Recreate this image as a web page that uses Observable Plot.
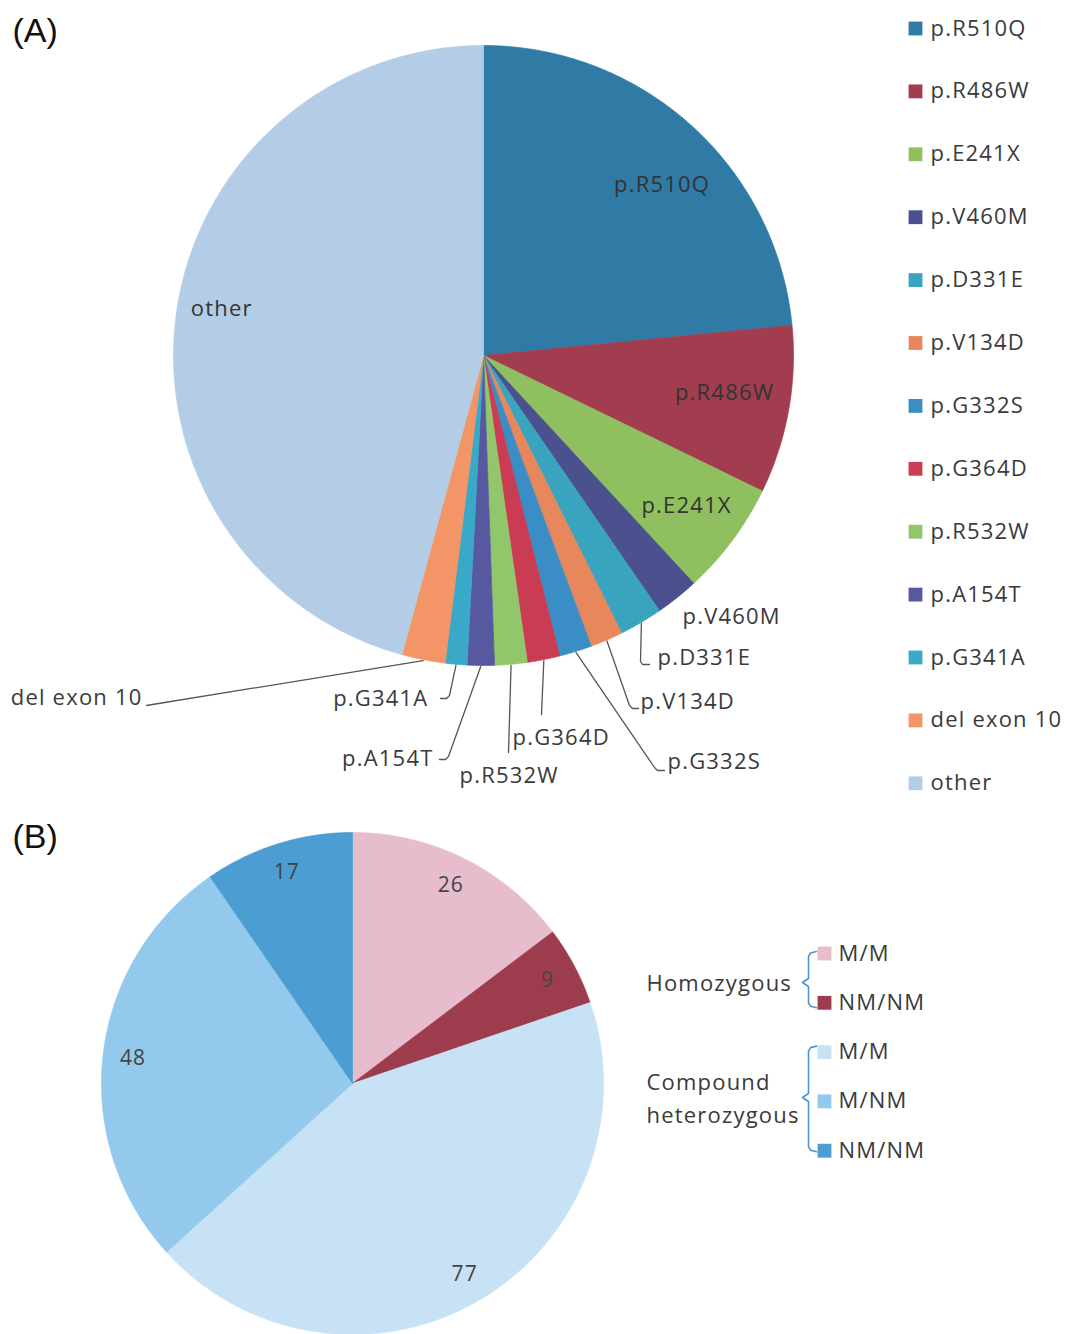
<!DOCTYPE html>
<html>
<head>
<meta charset="utf-8">
<script src="https://cdn.jsdelivr.net/npm/d3@7"></script>
<script src="https://cdn.jsdelivr.net/npm/@observablehq/plot@0.6"></script>
<style>
html, body { margin: 0; padding: 0; background: #ffffff; }
#chart svg { display: block; }
#chart svg .lbl text { letter-spacing: 1.2px; }
</style>
</head>
<body>
<div id="chart"></div>
<script>
// ---------- Panel A: mutation allele counts (clockwise from 12 o'clock) ----------
const mutations = ["p.R510Q", "p.R486W", "p.E241X", "p.V460M", "p.D331E", "p.V134D",
  "p.G332S", "p.G364D", "p.R532W", "p.A154T", "p.G341A", "del exon 10", "other"];
const alleleCounts = [83, 31, 21, 8, 8, 6, 6, 6, 6, 5, 4, 8, 162];
const mutationColors = ["#2f7ba6", "#a23d50", "#8fbf5f", "#4b508f", "#3aa4bf", "#e8875b",
  "#3b8ec5", "#c93c53", "#91c66b", "#5759a0", "#3aa9c7", "#f39566", "#b4cde6"];
const insideLabelsA = ["p.R510Q", "p.R486W", "p.E241X", "other"];

// ---------- Panel B: genotype counts (clockwise from 12 o'clock) ----------
const genotypeGroups = ["Homozygous", "Homozygous", "Compound heterozygous", "Compound heterozygous", "Compound heterozygous"];
const genotypeKinds = ["M/M", "NM/NM", "M/M", "M/NM", "NM/NM"];
const genotypeCounts = [26, 9, 77, 48, 17];
const genotypeColors = ["#e7bccd", "#9d3c4c", "#c8e2f5", "#92c9ec", "#4b9dd2"];

// ---------- layout ----------
const W = 1071, H = 1334;
const pieA = {cx: 483, cy: 355, r: 310};
const pieB = {cx: 352, cy: 1083, r: 251};
const textColor = "#3a3a3a";
const font = "'Open Sans', 'Noto Sans', sans-serif";

function polar(p, angle, radius) {
  return {x: p.cx + radius * Math.sin(angle), y: p.cy - radius * Math.cos(angle)};
}

function buildSlices(values, keys, colors, p) {
  const arcs = d3.pie().sort(null).value(d => d)(values);
  return arcs.map((a, i) => {
    const n = Math.max(2, Math.ceil((a.endAngle - a.startAngle) / (Math.PI / 360)));
    const pts = [{x: p.cx, y: p.cy}];
    for (let k = 0; k <= n; k++) {
      pts.push(polar(p, a.startAngle + (a.endAngle - a.startAngle) * k / n, p.r));
    }
    pts.push({x: p.cx, y: p.cy});
    return {key: keys[i], color: colors[i], value: values[i], pts, mid: (a.startAngle + a.endAngle) / 2};
  });
}

const slicesA = buildSlices(alleleCounts, mutations, mutationColors, pieA);
const slicesB = buildSlices(genotypeCounts, genotypeKinds, genotypeColors, pieB);

// inside label nudges (pixels) for panel A
const insideNudge = {"p.R510Q": [12, 13], "p.R486W": [-3, -6], "p.E241X": [4, 3], "other": [-16, -14]};

// outside labels of panel A (leader line bends after the rim point)
const outerLabelsA = [
  {key: "p.V460M", tx: 682, ty: 616, anchor: "start", bend: []},
  {key: "p.D331E", tx: 657, ty: 657, anchor: "start", bend: [[640, 661], [642, 664], [649, 664]]},
  {key: "p.V134D", tx: 640, ty: 701, anchor: "start", bend: [[629, 705], [632, 708], [638, 708]]},
  {key: "p.G332S", tx: 667, ty: 761, anchor: "start", bend: [[654, 767], [657, 770], [664, 770]]},
  {key: "p.G364D", tx: 512, ty: 737, anchor: "start", bend: [[541, 714]]},
  {key: "p.R532W", tx: 459, ty: 775, anchor: "start", bend: [[508, 752]]},
  {key: "p.A154T", tx: 433, ty: 758, anchor: "end", bend: [[448, 756], [445, 759], [439, 759]]},
  {key: "p.G341A", tx: 428, ty: 698, anchor: "end", bend: [[449, 695], [446, 698], [440, 698]]},
  {key: "del exon 10", tx: 142, ty: 697, anchor: "end", bend: [[152, 704], [146, 705]]}
];

const marks = [];

// slices
for (const s of [...slicesA, ...slicesB]) {
  marks.push(Plot.line(s.pts, {x: "x", y: "y", fill: s.color, stroke: s.color, strokeWidth: 0.7, curve: "linear"}));
}

// inside labels panel A
const inA = slicesA.filter(s => insideLabelsA.includes(s.key)).map(s => {
  const p = polar(pieA, s.mid, pieA.r * 0.8);
  const [dx, dy] = insideNudge[s.key];
  return {x: p.x + dx, y: p.y + dy, text: s.key};
});
marks.push(Plot.text(inA, {x: "x", y: "y", text: "text", fontSize: 22, fill: "#333", fontFamily: font, className: "lbl"}));

// outside labels with leader lines
for (const o of outerLabelsA) {
  const s = slicesA.find(d => d.key === o.key);
  if (o.bend.length) {
    const start = polar(pieA, s.mid, pieA.r + 1);
    const pts = [start, ...o.bend.map(([x, y]) => ({x, y}))];
    marks.push(Plot.line(pts, {x: "x", y: "y", stroke: "#555", strokeWidth: 1.3, curve: "linear"}));
  }
}
for (const anchor of ["start", "end"]) {
  marks.push(Plot.text(outerLabelsA.filter(o => o.anchor === anchor),
    {x: "tx", y: "ty", text: "key", textAnchor: anchor, fontSize: 22, fill: textColor, fontFamily: font, className: "lbl"}));
}

// panel B value labels
const inB = slicesB.map(s => ({...polar(pieB, s.mid, pieB.r * 0.88), text: String(s.value)}));
marks.push(Plot.text(inB, {x: "x", y: "y", text: "text", fontSize: 21, fill: "#444", fontFamily: font, className: "lbl"}));

// legend A
const legA = mutations.map((m, i) => ({key: m, color: mutationColors[i], y: 28 + i * 62.9}));
marks.push(Plot.dot(legA, {x: () => 915, y: "y", symbol: "square", r: 7.8, fill: "color", stroke: null}));
marks.push(Plot.text(legA, {x: () => 930, y: "y", text: "key", textAnchor: "start", fontSize: 22, fill: textColor, fontFamily: font, className: "lbl"}));

// legend B
const legB = genotypeKinds.map((k, i) => ({key: k, color: genotypeColors[i], y: 953 + i * 49.3}));
marks.push(Plot.dot(legB, {x: () => 824, y: "y", symbol: "square", r: 7.8, fill: "color", stroke: null}));
marks.push(Plot.text(legB, {x: () => 838, y: "y", text: "key", textAnchor: "start", fontSize: 22, fill: textColor, fontFamily: font, className: "lbl"}));
const groupLabels = [
  {text: "Homozygous", x: 646, y: 983},
  {text: "Compound", x: 646, y: 1082},
  {text: "heterozygous", x: 646, y: 1115}
];
marks.push(Plot.text(groupLabels, {x: "x", y: "y", text: "text", textAnchor: "start", fontSize: 22, fill: textColor, fontFamily: font, className: "lbl"}));

function brace(x, y0, y1, ym) {
  return [[x + 8, y0], [x + 2, y0 + 1.5], [x, y0 + 5], [x, ym - 4], [x - 6, ym], [x, ym + 4], [x, y1 - 5], [x + 2, y1 - 1.5], [x + 8, y1]]
    .map(([x, y]) => ({x, y}));
}
marks.push(Plot.line(brace(808, legB[0].y - 2, legB[1].y + 5, 982), {x: "x", y: "y", stroke: "#4f95cc", strokeWidth: 1.6}));
marks.push(Plot.line(brace(808, legB[2].y - 6, legB[4].y + 1, 1097), {x: "x", y: "y", stroke: "#4f95cc", strokeWidth: 1.6}));

// panel letters
const panels = [{text: "(A)", y: 31}, {text: "(B)", y: 837}];
marks.push(Plot.text(panels, {x: () => 12, y: "y", text: "text", textAnchor: "start", fontSize: 34, fill: "#111", fontFamily: "'Liberation Sans', Arial, sans-serif"}));

const chart = Plot.plot({
  width: W, height: H,
  margin: 0,
  x: {domain: [0, W], range: [0, W], axis: null},
  y: {domain: [0, H], range: [0, H], axis: null},
  style: {background: "#ffffff", fontFamily: font},
  marks
});
document.getElementById("chart").appendChild(chart);
</script>
</body>
</html>
